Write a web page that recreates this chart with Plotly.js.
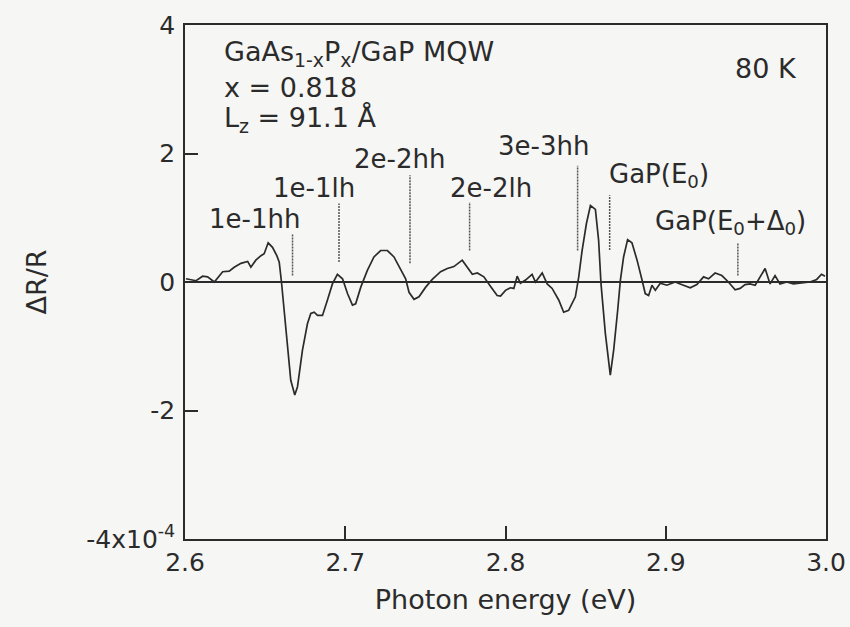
<!DOCTYPE html>
<html>
<head>
<meta charset="utf-8">
<script src="https://cdn.plot.ly/plotly-3.0.1.min.js"></script>
<style>html,body{margin:0;padding:0;background:#f6f6f4;}#chart{width:850px;height:627px;}</style>
</head>
<body>
<div id="chart"></div>
<script>
// Photon energy (eV)
const energy = [2.6006,2.6069,2.6110,2.6141,2.6183,2.6235,2.6276,2.6307,2.6349,2.6391,2.6411,2.6442,2.6474,2.6494,2.6519,2.6546,2.6573,2.6588,2.6602,2.6619,2.6640,2.6660,2.6685,2.6702,2.6733,2.6764,2.6785,2.6806,2.6827,2.6858,2.6889,2.6920,2.6951,2.6983,2.7014,2.7045,2.7065,2.7097,2.7138,2.7179,2.7221,2.7263,2.7304,2.7346,2.7377,2.7398,2.7429,2.7460,2.7502,2.7543,2.7595,2.7637,2.7678,2.7730,2.7761,2.7793,2.7824,2.7865,2.7907,2.7948,2.7969,2.8000,2.8031,2.8052,2.8073,2.8093,2.8125,2.8166,2.8187,2.8229,2.8260,2.8291,2.8332,2.8363,2.8394,2.8436,2.8457,2.8478,2.8505,2.8530,2.8561,2.8581,2.8596,2.8623,2.8654,2.8675,2.8700,2.8717,2.8737,2.8762,2.8789,2.8821,2.8852,2.8872,2.8893,2.8914,2.8935,2.8966,2.9007,2.9059,2.9090,2.9153,2.9194,2.9236,2.9267,2.9308,2.9350,2.9391,2.9433,2.9464,2.9495,2.9526,2.9558,2.9589,2.9620,2.9651,2.9682,2.9713,2.9755,2.9796,2.9838,2.9900,2.9942,2.9972,2.9994];
// ΔR/R in units of 1e-4
const dRR = [0.05,0.02,0.09,0.08,0.00,0.16,0.17,0.23,0.29,0.32,0.23,0.34,0.41,0.44,0.61,0.54,0.41,0.31,0.00,-0.44,-1.06,-1.53,-1.76,-1.63,-1.06,-0.65,-0.49,-0.47,-0.52,-0.52,-0.28,-0.03,0.12,0.05,-0.18,-0.36,-0.34,-0.08,0.18,0.39,0.49,0.49,0.39,0.18,0.05,-0.16,-0.27,-0.23,-0.08,0.04,0.16,0.21,0.24,0.34,0.23,0.12,0.14,0.08,-0.07,-0.21,-0.22,-0.13,-0.09,-0.10,0.09,-0.02,0.03,0.12,0.00,0.14,-0.03,-0.10,-0.28,-0.47,-0.44,-0.23,0.08,0.49,0.91,1.19,1.13,0.65,-0.03,-0.80,-1.45,-1.06,-0.44,0.03,0.39,0.66,0.61,0.34,0.03,-0.18,-0.21,-0.05,-0.13,-0.02,-0.05,0.00,-0.03,-0.09,-0.04,0.08,0.05,0.14,0.10,0.00,-0.12,-0.10,-0.04,-0.03,-0.05,0.08,0.21,-0.03,0.10,-0.03,0.00,-0.03,-0.02,0.00,0.04,0.12,0.09];

// Transition markers
const transitionLabels = ["1e-1hh","1e-1lh","2e-2hh","2e-2lh","3e-3hh","GaP(E<sub>0</sub>)","GaP(E<sub>0</sub>+Δ<sub>0</sub>)"];
const markerE      = [2.6671,2.6961,2.7404,2.7776,2.8450,2.8650,2.9450];
const markerTop    = [0.74,1.22,1.66,1.24,1.81,1.35,0.61];
const markerBottom = [0.10,0.31,0.29,0.49,0.49,0.50,0.10];
const labelE       = [2.6436,2.6804,2.7340,2.7907,2.8234,2.8960,2.9402];
const labelY       = [0.975,1.46,1.92,1.46,2.11,1.66,0.93];

// Sample info
const infoLines = ["GaAs<sub>1-x</sub>P<sub>x</sub>/GaP MQW","x = 0.818","L<sub>z</sub> = 91.1 Å"];
const infoY = [3.56,3.03,2.53];
const infoE = 2.6229;
const tempLabel = "80 K";
const tempE = 2.9623, tempY = 3.33;

// Axis ticks
const xTickVals = [2.6,2.7,2.8,2.9,3.0];
const xTickText = ["2.6","2.7","2.8","2.9","3.0"];
const yTickVals = [-4,-2,0,2,4];
const yTickText = ["-4x10<sup>-4</sup>","-2","0","2","4"];

const ink = '#2b2b2b';
const font = 'DejaVu Sans, sans-serif';

const mx = [], my = [];
for (let i = 0; i < markerE.length; i++) {
  mx.push(markerE[i], markerE[i], null);
  my.push(markerBottom[i], markerTop[i], null);
}

const traces = [
  {x: energy, y: dRR, type: 'scatter', mode: 'lines', line: {color: ink, width: 1.7}, hoverinfo: 'skip'},
  {x: mx, y: my, type: 'scatter', mode: 'lines', line: {color: '#555', width: 1.5, dash: '2px,1px'}, connectgaps: false, hoverinfo: 'skip'}
];

const annotations = [];
for (let i = 0; i < transitionLabels.length; i++) {
  annotations.push({x: labelE[i], y: labelY[i], xref: 'x', yref: 'y', text: transitionLabels[i], showarrow: false, xanchor: 'center', yanchor: 'middle', font: {family: font, size: 26, color: ink}});
}
for (let i = 0; i < infoLines.length; i++) {
  annotations.push({x: infoE, y: infoY[i], xref: 'x', yref: 'y', text: infoLines[i], showarrow: false, xanchor: 'left', yanchor: 'middle', font: {family: font, size: 27, color: ink}});
}
annotations.push({x: tempE, y: tempY, xref: 'x', yref: 'y', text: tempLabel, showarrow: false, xanchor: 'center', yanchor: 'middle', font: {family: font, size: 27, color: ink}});

const layout = {
  width: 850, height: 627,
  margin: {l: 185, r: 24, t: 25, b: 88},
  paper_bgcolor: '#f6f6f4', plot_bgcolor: '#f6f6f4',
  showlegend: false,
  font: {family: font, color: ink},
  xaxis: {
    range: [2.6, 3.0], tickvals: xTickVals, ticktext: xTickText,
    ticks: 'inside', ticklen: 13, tickwidth: 1.5, tickcolor: ink,
    showline: true, linecolor: ink, linewidth: 1.5, mirror: true,
    showgrid: false, zeroline: false,
    tickfont: {family: font, size: 25, color: ink},
    title: {text: 'Photon energy (eV)', font: {family: font, size: 27, color: ink}, standoff: 14}
  },
  yaxis: {
    range: [-4, 4], tickvals: yTickVals, ticktext: yTickText,
    ticks: 'inside', ticklen: 13, tickwidth: 1.5, tickcolor: ink,
    ticklabelstandoff: 3,
    showline: true, linecolor: ink, linewidth: 1.5, mirror: true,
    showgrid: false, zeroline: true, zerolinecolor: ink, zerolinewidth: 1.5,
    tickfont: {family: font, size: 25, color: ink},
    title: {text: 'ΔR/R', font: {family: font, size: 27, color: ink}, standoff: 32}
  },
  annotations: annotations
};

Plotly.newPlot('chart', traces, layout, {displayModeBar: false});
</script>
</body>
</html>
